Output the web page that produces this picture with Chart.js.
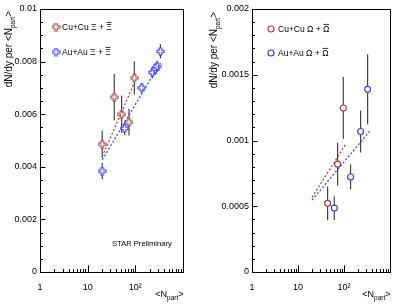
<!DOCTYPE html>
<html><head><meta charset="utf-8">
<script src="https://cdn.jsdelivr.net/npm/chart.js@4.4.1/dist/chart.umd.min.js"></script>
<style>
html,body{margin:0;padding:0;background:#fff;}
#wrap{position:relative;width:415px;height:305px;overflow:hidden;background:#fff;}
canvas{position:absolute;top:0;}
</style></head><body>
<div id="wrap">
<canvas id="left" width="207" height="305" style="left:0"></canvas>
<canvas id="right" width="208" height="305" style="left:207px"></canvas>
</div>
<script>
// ---------- data ----------
const xiCuNpart = [20.2, 36.1, 51.5, 73.6, 95.3];
const xiCuYield = [0.00486, 0.00665, 0.00600, 0.00570, 0.00738];
const xiCuErr   = [0.00052, 0.00088, 0.00071, 0.00051, 0.00063];

const xiAuNpart = [20.2, 59.6, 135.8, 228, 264, 286, 336];
const xiAuYield = [0.00384, 0.00546, 0.00700, 0.00759, 0.00772, 0.00782, 0.00839];
const xiAuErr   = [0.00030, 0.00025, 0.00019, 0.00022, 0.00022, 0.00022, 0.00027];

const xiCuFitNpart = [20.2, 95.3];
const xiCuFitYield = [0.00439, 0.00719];
const xiAuFitNpart = [20.2, 336];
const xiAuFitYield = [0.00427, 0.00795];

const omCuNpart = [44, 72.6, 96.6];
const omCuYield = [0.000522, 0.000820, 0.001247];
const omCuErr   = [0.000127, 0.000163, 0.000236];

const omAuNpart = [61.5, 139, 229.6, 326];
const omAuYield = [0.000486, 0.000723, 0.001069, 0.001389];
const omAuErr   = [0.000090, 0.000095, 0.000160, 0.000267];

const omCuFitNpart = [20.2, 106.7];
const omCuFitYield = [0.000568, 0.000967];
const omAuFitNpart = [20.2, 360];
const omAuFitYield = [0.000547, 0.001069];

const xTickLabels = {1: '1', 10: '10', 100: '10\u00B2'};

// ---------- styling ----------
const FONT = '"Liberation Sans", Arial, Helvetica, sans-serif';
const RED = '#a83c3c';
const BLUE = '#3a3aff';
const ERRC = '#444444';

function crossImg(color) {
  const c = document.createElement('canvas');
  c.width = 9; c.height = 9;
  const g = c.getContext('2d');
  const m = 4.5, a = 1.3, s = 3.5;
  g.beginPath();
  g.moveTo(m - a, m - s); g.lineTo(m + a, m - s); g.lineTo(m + a, m - a);
  g.lineTo(m + s, m - a); g.lineTo(m + s, m + a); g.lineTo(m + a, m + a);
  g.lineTo(m + a, m + s); g.lineTo(m - a, m + s); g.lineTo(m - a, m + a);
  g.lineTo(m - s, m + a); g.lineTo(m - s, m - a); g.lineTo(m - a, m - a);
  g.closePath();
  g.fillStyle = '#fff'; g.fill();
  g.strokeStyle = color; g.lineWidth = 1.1; g.stroke();
  return c;
}

function pts(xs, ys) { return xs.map((x, i) => ({x: x, y: ys[i]})); }

function drawParts(ctx, parts, x, y, align) {
  let total = 0;
  parts.forEach(p => { ctx.font = p.size + 'px ' + FONT; p.w = ctx.measureText(p.t).width; total += p.w; });
  let cx = align === 'right' ? x - total : x;
  ctx.textAlign = 'left'; ctx.textBaseline = 'alphabetic';
  parts.forEach(p => {
    ctx.font = p.size + 'px ' + FONT;
    ctx.fillText(p.t, cx, y + (p.dy || 0));
    if (p.over) {
      ctx.save(); ctx.strokeStyle = '#000'; ctx.lineWidth = 0.8;
      const oy = y - p.size * 0.74 - 1.3;
      ctx.beginPath(); ctx.moveTo(cx + 0.3, oy); ctx.lineTo(cx + p.w - 0.3, oy); ctx.stroke();
      ctx.restore();
    }
    cx += p.w;
  });
}

function makeChart(id, o) {
  const decor = {
    id: 'decor' + id,
    beforeDatasetsDraw(chart) {
      const ctx = chart.ctx, xs = chart.scales.x, ys = chart.scales.y;
      ctx.save();
      ctx.strokeStyle = ERRC; ctx.lineWidth = 1.2;
      o.errSets.forEach(es => {
        es.x.forEach((xv, i) => {
          const px = xs.getPixelForValue(xv);
          const y1 = ys.getPixelForValue(es.y[i] - es.e[i]);
          const y2 = ys.getPixelForValue(es.y[i] + es.e[i]);
          ctx.beginPath(); ctx.moveTo(px, y1); ctx.lineTo(px, y2); ctx.stroke();
        });
      });
      ctx.restore();
    },
    afterDraw(chart) {
      const ctx = chart.ctx, a = chart.chartArea, xs = chart.scales.x, ys = chart.scales.y;
      ctx.save();
      ctx.strokeStyle = '#000'; ctx.lineWidth = 1;
      const L = Math.round(a.left) + 0.5, R = Math.round(a.right) + 0.5;
      const T = Math.round(a.top) + 0.5, B = Math.round(a.bottom) + 0.5;
      ctx.strokeRect(L, T, R - L, B - T);
      ctx.beginPath();
      for (let k = 0; k <= Math.round(o.yMax / o.yMinor); k++) {
        const v = k * o.yMinor;
        const py = Math.round(ys.getPixelForValue(v)) + 0.5;
        const major = (k % o.yMinorPer) === 0;
        ctx.moveTo(L, py); ctx.lineTo(L + (major ? 5 : 2.5), py);
      }
      for (let d = 1; d <= 100; d *= 10) {
        for (let m = 1; m <= 10; m++) {
          const v = d * m;
          if (v > 1000) continue;
          const px = Math.round(xs.getPixelForValue(v)) + 0.5;
          const major = (m === 1 || m === 10);
          ctx.moveTo(px, B); ctx.lineTo(px, B - (major ? 7 : 3.5));
        }
      }
      ctx.stroke();
      ctx.fillStyle = '#000';
      ctx.save();
      ctx.translate(o.yTitleX, o.yTitleTop);
      ctx.rotate(-Math.PI / 2);
      drawParts(ctx, [
        {t: 'dN/dy per <N', size: 10},
        {t: 'part', size: 6.5, dy: 3.2},
        {t: '>', size: 10}
      ], 0, 0, 'right');
      ctx.restore();
      drawParts(ctx, [
        {t: '<N', size: 9},
        {t: 'part', size: 6.5, dy: 3},
        {t: '>', size: 9}
      ], R, 297, 'right');
      o.legend.forEach(lg => {
        if (lg.img) ctx.drawImage(lg.img, lg.mx - 4.5, lg.my - 4.5);
        else {
          ctx.beginPath(); ctx.arc(lg.mx, lg.my, 3, 0, Math.PI * 2);
          ctx.fillStyle = '#fff'; ctx.fill();
          ctx.strokeStyle = lg.color; ctx.lineWidth = 1.1; ctx.stroke();
          ctx.fillStyle = '#000';
        }
        drawParts(ctx, [
          {t: lg.sys + ' ' + lg.sym + ' + ', size: 8.5},
          {t: lg.sym, size: 8.5, over: true}
        ], lg.tx, lg.my + 3, 'left');
      });
      if (o.star) {
        ctx.font = '7.6px ' + FONT; ctx.textAlign = 'left'; ctx.textBaseline = 'middle';
        ctx.fillText(o.star.t, o.star.x, o.star.y);
      }
      ctx.restore();
    }
  };

  return new Chart(document.getElementById(id), {
    type: 'scatter',
    data: {datasets: o.datasets},
    options: {
      responsive: false,
      animation: false,
      devicePixelRatio: 1,
      layout: {padding: {left: 0, right: o.padRight, top: 9, bottom: 0}},
      plugins: {legend: {display: false}, tooltip: {enabled: false}},
      scales: {
        x: {
          type: 'logarithmic', min: 1, max: 1000,
          grid: {display: false, drawTicks: false}, border: {display: false},
          afterBuildTicks: s => { s.ticks = [1, 10, 100].map(v => ({value: v})); },
          afterFit: s => { s.height = 33; },
          ticks: {
            autoSkip: false, maxRotation: 0, padding: 10, color: '#000',
            font: {family: FONT, size: 9},
            callback: v => xTickLabels[v] || ''
          }
        },
        y: {
          type: 'linear', min: 0, max: o.yMax,
          grid: {display: false, drawTicks: false}, border: {display: false},
          afterFit: s => { s.width = o.yWidth; },
          ticks: {
            stepSize: o.yStep, padding: 3, color: '#000',
            font: {family: FONT, size: 9},
            callback: v => String(Number(v.toFixed(5)))
          }
        }
      }
    },
    plugins: [decor]
  });
}

function fitSet(xs, ys, color) {
  return {data: pts(xs, ys), showLine: true, borderColor: color, borderWidth: 1.2,
          borderDash: [2, 2], pointRadius: 0, fill: false};
}

const redCross = crossImg(RED), blueCross = crossImg(BLUE);

makeChart('left', {
  padRight: 24, yWidth: 40, yMax: 0.01, yStep: 0.002, yMinor: 0.0005, yMinorPer: 4,
  yTitleX: 12, yTitleTop: 11,
  datasets: [
    fitSet(xiCuFitNpart, xiCuFitYield, RED),
    fitSet(xiAuFitNpart, xiAuFitYield, BLUE),
    {data: pts(xiCuNpart, xiCuYield), pointStyle: redCross, showLine: false},
    {data: pts(xiAuNpart, xiAuYield), pointStyle: blueCross, showLine: false}
  ],
  errSets: [{x: xiCuNpart, y: xiCuYield, e: xiCuErr}, {x: xiAuNpart, y: xiAuYield, e: xiAuErr}],
  legend: [
    {img: redCross, mx: 56, my: 27, tx: 62, sys: 'Cu+Cu', sym: '\u039E'},
    {img: blueCross, mx: 56, my: 52, tx: 62, sys: 'Au+Au', sym: '\u039E'}
  ],
  star: {t: 'STAR Preliminary', x: 112, y: 244}
});

makeChart('right', {
  padRight: 25, yWidth: 45, yMax: 0.002, yStep: 0.0005, yMinor: 0.0001, yMinorPer: 5,
  yTitleX: 10, yTitleTop: 12,
  datasets: [
    fitSet(omCuFitNpart, omCuFitYield, RED),
    fitSet(omAuFitNpart, omAuFitYield, BLUE),
    {data: pts(omCuNpart, omCuYield), pointStyle: 'circle', radius: 3, backgroundColor: '#fff',
     borderColor: RED, borderWidth: 1.1, showLine: false},
    {data: pts(omAuNpart, omAuYield), pointStyle: 'circle', radius: 3, backgroundColor: '#fff',
     borderColor: BLUE, borderWidth: 1.1, showLine: false}
  ],
  errSets: [{x: omCuNpart, y: omCuYield, e: omCuErr}, {x: omAuNpart, y: omAuYield, e: omAuErr}],
  legend: [
    {color: RED, mx: 64, my: 29, tx: 71, sys: 'Cu+Cu', sym: '\u03A9'},
    {color: BLUE, mx: 64, my: 53, tx: 71, sys: 'Au+Au', sym: '\u03A9'}
  ],
  star: null
});
</script>
</body></html>
